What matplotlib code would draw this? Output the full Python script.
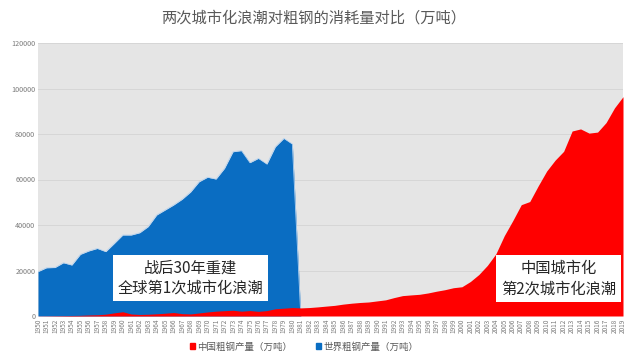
import matplotlib

matplotlib.use("Agg")
import matplotlib.pyplot as plt  # noqa: E402
from matplotlib.patches import Patch  # noqa: E402

plt.rcParams["font.family"] = ["Noto Sans CJK SC", "DejaVu Sans"]

TITLE = "两次城市化浪潮对粗钢的消耗量对比（万吨）"
CHINA_LABEL = "中国粗钢产量（万吨）"
WORLD_LABEL = "世界粗钢产量（万吨）"
NOTE_WORLD = "战后30年重建\n全球第1次城市化浪潮"
NOTE_CHINA = "中国城市化\n第2次城市化浪潮"

years = list(range(1950, 2020))

# China crude steel output, 1950-2019 (万吨)
china = [
    61, 90, 135, 177, 223, 285, 447, 535, 800, 1387,
    1866, 870, 667, 762, 964, 1223, 1532, 1029, 904, 1333,
    1779, 2132, 2338, 2522, 2112, 2390, 2046, 2374, 3178, 3448,
    3712, 3560, 3716, 4002, 4347, 4679, 5221, 5628, 5943, 6159,
    6635, 7100, 8094, 8956, 9261, 9536, 10124, 10894, 11559, 12426,
    12850, 15163, 18237, 22234, 27280, 35324, 41915, 48929, 50306, 57218,
    63723, 68528, 72388, 81314, 82231, 80383, 80837, 85000, 91500, 96400,
]

# World crude steel output, 1950-1981 (万吨); series ends (0) in 1981
world_years = list(range(1950, 1982))
world = [
    19500, 21200, 21300, 23400, 22400, 27100, 28600, 29700, 28300, 31900,
    35600, 35600, 36600, 39300, 44400, 46600, 48800, 51300, 54500, 59000,
    61000, 60200, 64900, 72200, 72700, 67400, 69300, 66800, 74400, 78100,
    75600, 0,
]

yticks = [0, 20000, 40000, 60000, 80000, 100000, 120000]

BLUE = "#0a6dc2"
RED = "#ff0000"
GREY_TXT = "#595959"
TICK_TXT = "#7a7a7a"

fig = plt.figure(figsize=(6.4, 3.58), dpi=100)
ax = fig.add_axes([38 / 640, 42 / 358, 585 / 640, 273 / 358])
ax.set_facecolor("#e5e5e5")

ax.fill_between(world_years, world, 0, color=BLUE, lw=0, zorder=2)
ax.plot(world_years, world, color="#b9d3ee", lw=0.6, zorder=2)
ax.fill_between(years, china, 0, color=RED, lw=0, zorder=3)

ax.set_xlim(years[0], years[-1])
ax.set_ylim(0, 120000)
ax.set_yticks(yticks)
ax.set_yticklabels([str(v) for v in yticks], fontsize=5.2, color=TICK_TXT)
ax.set_xticks(years)
ax.set_xticklabels([str(y) for y in years], rotation=90, fontsize=4.6,
                   color=TICK_TXT)
ax.tick_params(length=0, pad=2)
ax.grid(axis="y", color="#d6d6d6", lw=0.7, zorder=1)
for s in ax.spines.values():
    s.set_visible(False)

box = dict(boxstyle="square,pad=0.3", fc="white", ec="none")
ax.text(1968.0, 16700, NOTE_WORLD, ha="center", va="center", fontsize=11,
        color="#262626", bbox=box, zorder=5, linespacing=1.25)
ax.text(2011.4, 16400, NOTE_CHINA, ha="center", va="center", fontsize=11,
        color="#262626", bbox=box, zorder=5, linespacing=1.25)

fig.text(0.49, 1 - 18 / 358, TITLE, ha="center", va="center", fontsize=11,
         color=GREY_TXT)

handles = [Patch(color=RED, label=CHINA_LABEL),
           Patch(color=BLUE, label=WORLD_LABEL)]
fig.legend(handles=handles, loc="center", bbox_to_anchor=(0.475, 1 - 347 / 358),
           ncol=2, frameon=False, fontsize=6.8, handlelength=0.6,
           handleheight=0.6, handletextpad=0.2, columnspacing=2.5,
           labelcolor=GREY_TXT)

fig.savefig("out.png", dpi=100)
